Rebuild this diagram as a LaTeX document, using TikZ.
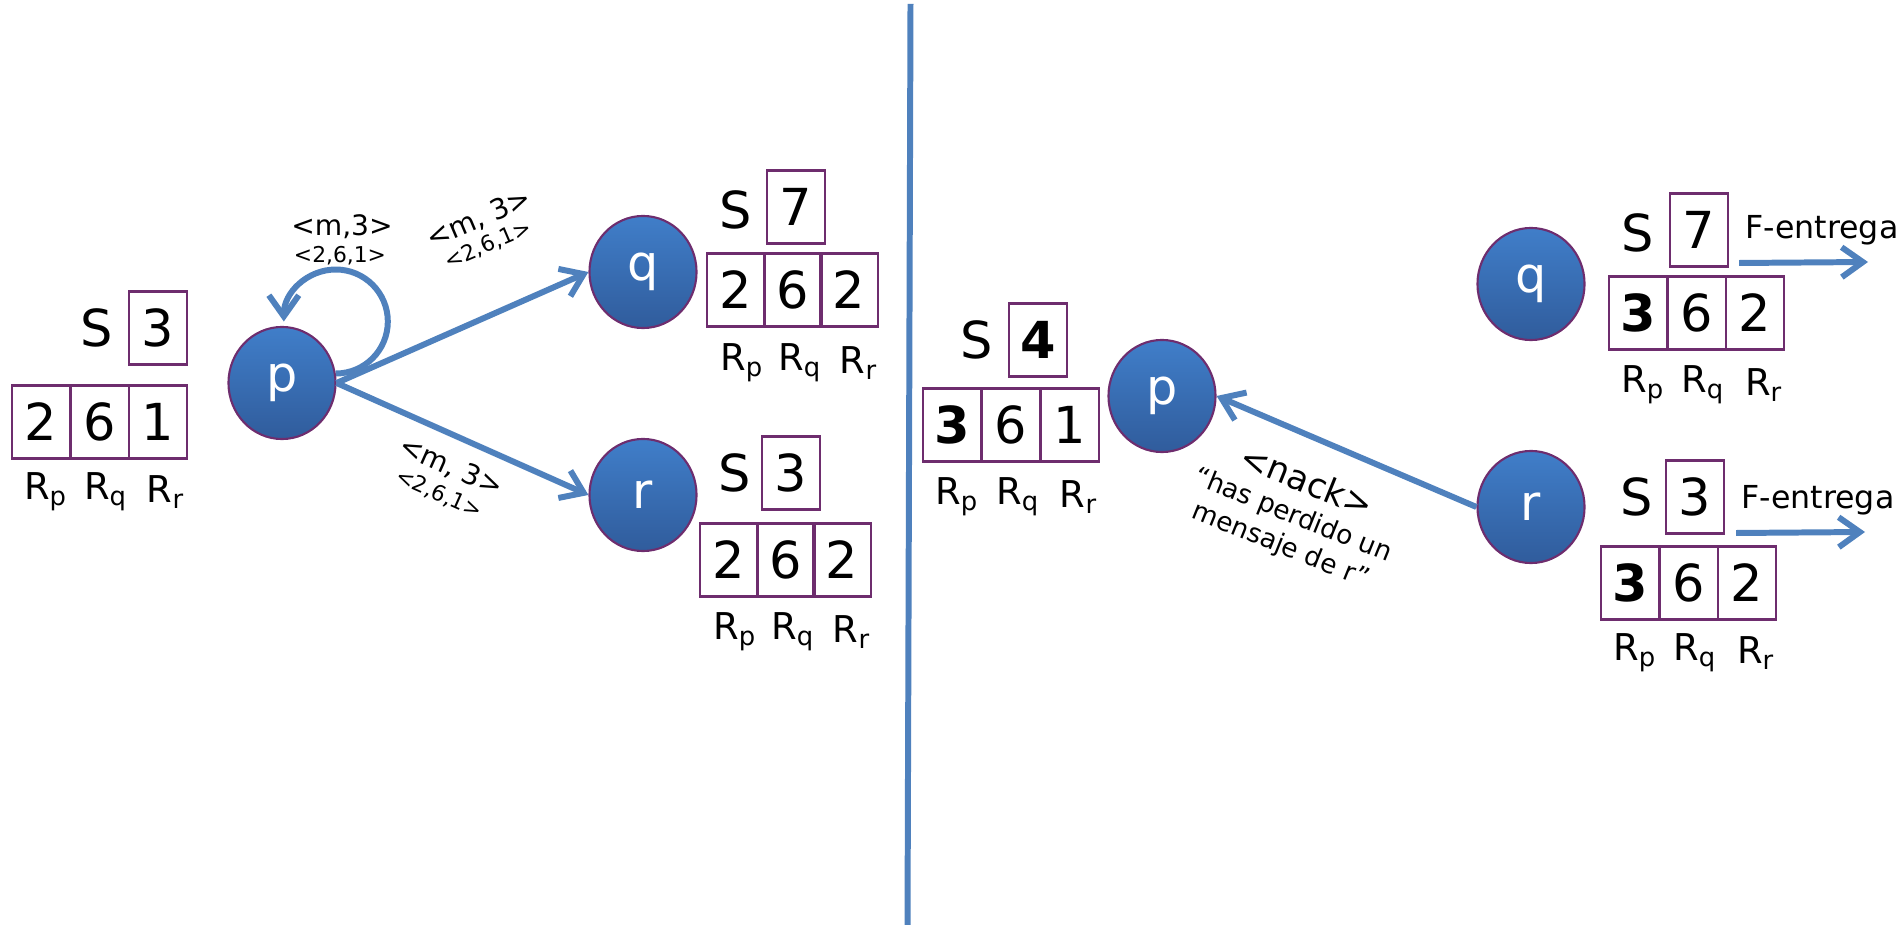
\documentclass[tikz,border=0pt]{standalone}
\usepackage{fontspec}
\setmainfont{DejaVu Sans}
\usepackage{xcolor}
\definecolor{msgblue}{RGB}{79,129,189}
\definecolor{cellpurple}{RGB}{110,45,110}
\definecolor{proctop}{RGB}{64,126,201}
\definecolor{procbot}{RGB}{48,92,156}
\usepackage{tikz}
\usetikzlibrary{arrows.meta,positioning,shapes.geometric}

\begin{document}
\begin{tikzpicture}[x=0.01cm, y=-0.01cm,
  proc/.style={ellipse, draw=cellpurple, line width=0.6pt, top color=proctop,
    bottom color=procbot, minimum width=1.07cm, minimum height=1.12cm,
    inner sep=0pt, text=white, font=\fontsize{14}{16}\selectfont},
  cell/.style={draw=cellpurple, line width=0.6pt, minimum width=0.585cm,
    minimum height=0.73cm, inner sep=0pt, font=\fontsize{14.5}{16}\selectfont},
  slbl/.style={font=\fontsize{14.5}{16}\selectfont},
  rlbl/.style={font=\fontsize{10.5}{12}\selectfont},
  msg/.style={line width=1.7pt, msgblue, -{Straight Barb[length=6pt,width=8.5pt]}},
  tag/.style={font=\fontsize{8}{9}\selectfont},
  subtag/.style={font=\fontsize{6.2}{7}\selectfont}]

\useasboundingbox (0,0) rectangle (1903,925);

% ---- before: p multicasts <m,3> ----
\node[proc] (p) at (282,383) {p};
\node[slbl] (p-s) at (97,328) {S};
\node[cell] (p-sv) at (158,328) {3};
\node[cell] (p-r1) at (41,422) {2};
\node[cell] (p-r2) at (100,422) {6};
\node[cell] (p-r3) at (158,422) {1};
\node[rlbl] (p-l1) at (46,492) {R\textsubscript{p}};
\node[rlbl] (p-l2) at (106,492) {R\textsubscript{q}};
\node[rlbl] (p-l3) at (166,492) {R\textsubscript{r}};

\node[proc] (q) at (643,272) {q};
\node[slbl] (q-s) at (736,210) {S};
\node[cell] (q-sv) at (796,207) {7};
\node[cell] (q-r1) at (736,290) {2};
\node[cell] (q-r2) at (793,290) {6};
\node[cell] (q-r3) at (849,290) {2};
\node[rlbl] (q-l1) at (742,363) {R\textsubscript{p}};
\node[rlbl] (q-l2) at (800,363) {R\textsubscript{q}};
\node[rlbl] (q-l3) at (859,363) {R\textsubscript{r}};

\node[proc] (r) at (643,495) {r};
\node[slbl] (r-s) at (735,473) {S};
\node[cell] (r-sv) at (791,473) {3};
\node[cell] (r-r1) at (729,560) {2};
\node[cell] (r-r2) at (786,560) {6};
\node[cell] (r-r3) at (842,560) {2};
\node[rlbl] (r-l1) at (735,632) {R\textsubscript{p}};
\node[rlbl] (r-l2) at (793,632) {R\textsubscript{q}};
\node[rlbl] (r-l3) at (852,632) {R\textsubscript{r}};

% self delivery and the two sends
\draw[msg] (p.10) arc[start angle=90, end angle=-180, radius=52];
\node[tag] (loop-t) at (342,227) {<m,3>};
\node[subtag] (loop-v) at (340,256) {<2,6,1>};

\draw[msg] (p.east) -- (q.west);
\node[tag, rotate=23] (pq-t) at (479,219) {<m, 3>};
\node[subtag, rotate=23] (pq-v) at (488,245) {<2,6,1>};

\draw[msg] (p.east) -- (r.west);
\node[tag, rotate=-24] (pr-t) at (451,467) {<m, 3>};
\node[subtag, rotate=-24] (pr-v) at (439,494) {<2,6,1>};

% divider
\coordinate (div-top) at (910.5,4);
\coordinate (div-bot) at (907.5,925);
\draw[line width=1.7pt, msgblue] (div-top) -- (div-bot);

% ---- after: r asks p for the lost message ----
\node[proc] (p2) at (1162,396) {p};
\node[slbl] (p2-s) at (977,340) {S};
\node[cell] (p2-sv) at (1038,340) {\textbf{4}};
\node[cell] (p2-r1) at (952,425) {\textbf{3}};
\node[cell] (p2-r2) at (1011,425) {6};
\node[cell] (p2-r3) at (1070,425) {1};
\node[rlbl] (p2-l1) at (957,497) {R\textsubscript{p}};
\node[rlbl] (p2-l2) at (1018,497) {R\textsubscript{q}};
\node[rlbl] (p2-l3) at (1079,497) {R\textsubscript{r}};

\node[proc] (q2) at (1531,284) {q};
\node[slbl] (q2-s) at (1638,233) {S};
\node[cell] (q2-sv) at (1699,230) {7};
\node[cell] (q2-r1) at (1638,313) {\textbf{3}};
\node[cell] (q2-r2) at (1697,313) {6};
\node[cell] (q2-r3) at (1755,313) {2};
\node[rlbl] (q2-l1) at (1643,385) {R\textsubscript{p}};
\node[rlbl] (q2-l2) at (1703,385) {R\textsubscript{q}};
\node[rlbl] (q2-l3) at (1764,385) {R\textsubscript{r}};

\node[proc] (r2) at (1531,507) {r};
\node[slbl] (r2-s) at (1637,497) {S};
\node[cell] (r2-sv) at (1695,497) {3};
\node[cell] (r2-r1) at (1630,583) {\textbf{3}};
\node[cell] (r2-r2) at (1689,583) {6};
\node[cell] (r2-r3) at (1747,583) {2};
\node[rlbl] (r2-l1) at (1635,653) {R\textsubscript{p}};
\node[rlbl] (r2-l2) at (1695,653) {R\textsubscript{q}};
\node[rlbl] (r2-l3) at (1756,653) {R\textsubscript{r}};

% nack back to p
\draw[msg] (r2.west) -- (p2.east);
\node[rotate=-22, align=center, font=\fontsize{7.5}{9.3}\selectfont] (nack) at (1294,513)
  {{\fontsize{9.8}{11}\selectfont <nack>}\\“has perdido un\\mensaje de r”};

% delivery at q and r
\node[font=\fontsize{9}{11}\selectfont] (q2-f) at (1822,230) {F-entrega};
\coordinate (q2-fa) at (1739,263);
\coordinate (q2-fb) at (1868,262);
\draw[msg] (q2-fa) -- (q2-fb);

\node[font=\fontsize{9}{11}\selectfont] (r2-f) at (1818,500) {F-entrega};
\coordinate (r2-fa) at (1736,533);
\coordinate (r2-fb) at (1865,532);
\draw[msg] (r2-fa) -- (r2-fb);

\end{tikzpicture}
\end{document}
